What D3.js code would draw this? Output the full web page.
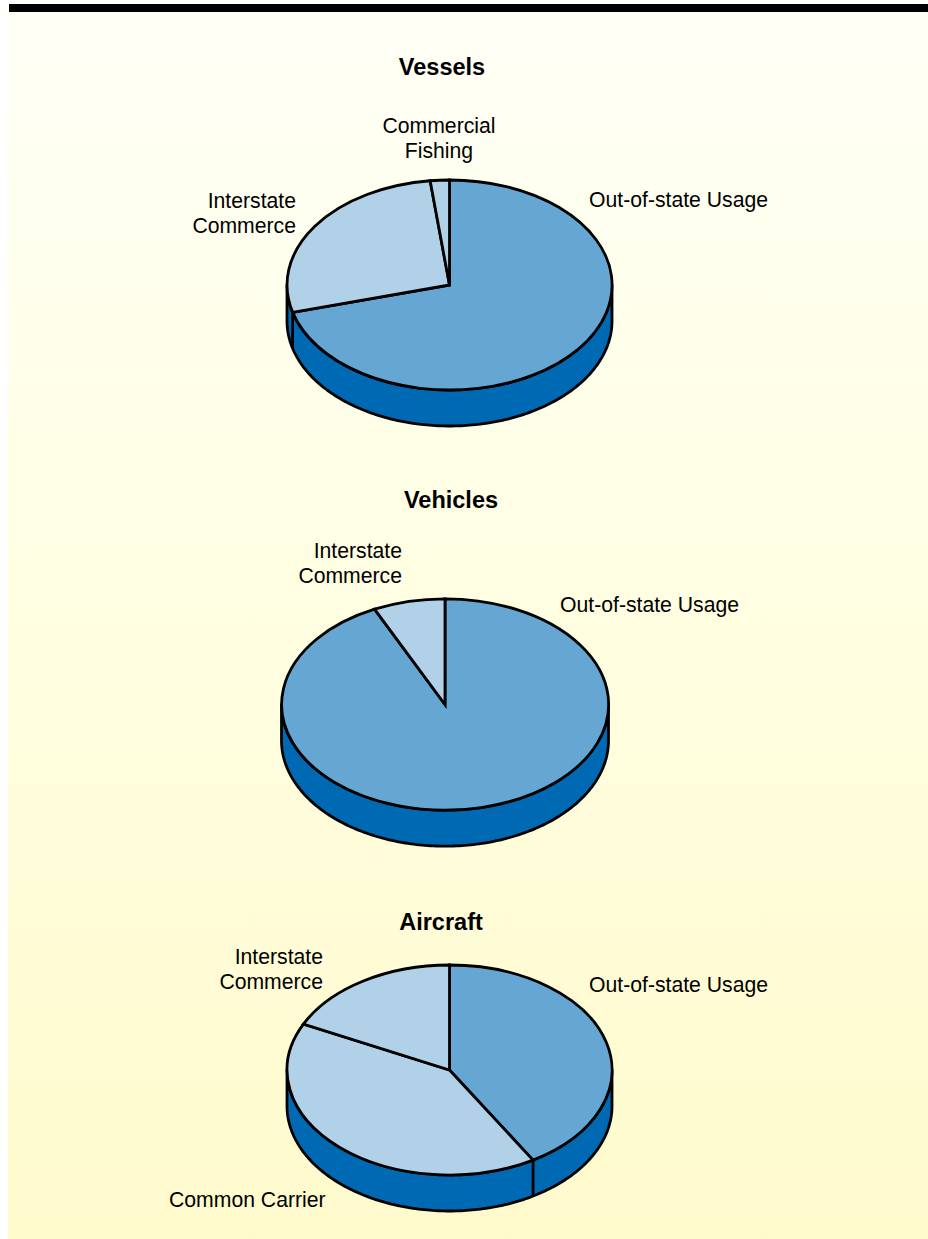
<!DOCTYPE html>
<html>
<head>
<meta charset="utf-8">
<script src="https://cdn.jsdelivr.net/npm/d3@7/dist/d3.min.js"></script>
<style>
html,body{margin:0;padding:0;background:#fff}
svg{display:block}
text{font-family:"Liberation Sans",Arial,Helvetica,sans-serif;font-size:21.2px;fill:#000}
.title{font-weight:bold;font-size:23.5px}
</style>
</head>
<body>
<svg id="chart" width="928" height="1239"></svg>
<script>
// Share of each pie, per cent
const vesselValues = [70.8, 27.3, 1.9];
const vehicleValues = [92.9, 7.1];
const aircraftValues = [41.4, 40.8, 17.8];

// Pie placement and label placement
const panels = [
  {title: "Vessels", values: vesselValues, kinds: [0, 1, 1], cx: 449.5, cy: 285, rx: 162.5, titleX: 442, titleY: 75,
   labels: [
     {lines: ["Out-of-state Usage"], x: 589, y: 207, anchor: "start"},
     {lines: ["Interstate", "Commerce"], x: 296, y: 208, anchor: "end"},
     {lines: ["Commercial", "Fishing"], x: 439, y: 133, anchor: "middle"}]},
  {title: "Vehicles", values: vehicleValues, kinds: [0, 1], cx: 445, cy: 704.5, rx: 163.5, titleX: 451, titleY: 508,
   labels: [
     {lines: ["Out-of-state Usage"], x: 560, y: 612, anchor: "start"},
     {lines: ["Interstate", "Commerce"], x: 402, y: 558, anchor: "end"}]},
  {title: "Aircraft", values: aircraftValues, kinds: [0, 1, 1], cx: 449.5, cy: 1070, rx: 162.5, titleX: 441, titleY: 930,
   labels: [
     {lines: ["Out-of-state Usage"], x: 589, y: 992, anchor: "start"},
     {lines: ["Common Carrier"], x: 169, y: 1207, anchor: "start"},
     {lines: ["Interstate", "Commerce"], x: 323, y: 964, anchor: "end"}]}
];

const tilt = 105 / 162.5;   // vertical squash of the disc
const depth = 36;           // wall height
const topFill = ["#66a6d3", "#b1d1e8"];
const wallFill = "#0069b4";
const strokeWidth = 2.8;

const svg = d3.select("#chart");

// Background panel with a pale vertical gradient and the rule along the top
const grad = svg.append("defs").append("linearGradient")
  .attr("id", "paper").attr("x1", 0).attr("y1", 0).attr("x2", 0).attr("y2", 1);
grad.append("stop").attr("offset", 0).attr("stop-color", "#fffff6");
grad.append("stop").attr("offset", 0.5).attr("stop-color", "#fffee1");
grad.append("stop").attr("offset", 1).attr("stop-color", "#fefacc");
svg.append("rect").attr("x", 8).attr("y", 12).attr("width", 920).attr("height", 1227).attr("fill", "url(#paper)");
svg.append("rect").attr("x", 9).attr("y", 4).attr("width", 919).attr("height", 8).attr("fill", "#000");

const pie = d3.pie().sort(null);

panels.forEach(p => {
  const g = svg.append("g");
  const ry = p.rx * tilt;
  const px = a => p.cx + p.rx * Math.sin(a);
  const py = (a, drop = 0) => p.cy - ry * Math.cos(a) + drop;
  const arcs = pie(p.values);

  // Front wall of the disc: the lower half of the rim, extruded downward
  const samples = d3.range(0, 181).map(i => Math.PI / 2 + i * Math.PI / 180);
  const rim = d3.area().x(a => px(a)).y0(a => py(a)).y1(a => py(a, depth));
  g.append("path").attr("d", rim(samples))
    .attr("fill", wallFill).attr("stroke", "#000")
    .attr("stroke-width", strokeWidth).attr("stroke-linejoin", "round");

  // Vertical seams where a slice boundary falls on the visible wall
  arcs.forEach(d => {
    if (d.endAngle > Math.PI / 2 && d.endAngle < 3 * Math.PI / 2) {
      g.append("line")
        .attr("x1", px(d.endAngle)).attr("y1", py(d.endAngle))
        .attr("x2", px(d.endAngle)).attr("y2", py(d.endAngle, depth))
        .attr("stroke", "#000").attr("stroke-width", strokeWidth);
    }
  });

  // Top face: slices drawn on a unit circle and squashed into an ellipse
  const arc = d3.arc().innerRadius(0).outerRadius(1);
  g.append("g")
    .attr("transform", `translate(${p.cx},${p.cy}) scale(${p.rx},${ry})`)
    .selectAll("path").data(arcs).join("path")
    .attr("d", arc)
    .attr("fill", (d, i) => topFill[p.kinds[i]])
    .attr("stroke", "#000")
    .attr("stroke-width", strokeWidth)
    .attr("stroke-linejoin", "miter")
    .attr("vector-effect", "non-scaling-stroke");

  g.append("text").attr("class", "title")
    .attr("x", p.titleX).attr("y", p.titleY)
    .attr("text-anchor", "middle").text(p.title);

  p.labels.forEach(l => {
    const t = g.append("text").attr("text-anchor", l.anchor);
    l.lines.forEach((line, i) => {
      t.append("tspan").attr("x", l.x).attr("y", l.y + i * 25).text(line);
    });
  });
});
</script>
</body>
</html>
